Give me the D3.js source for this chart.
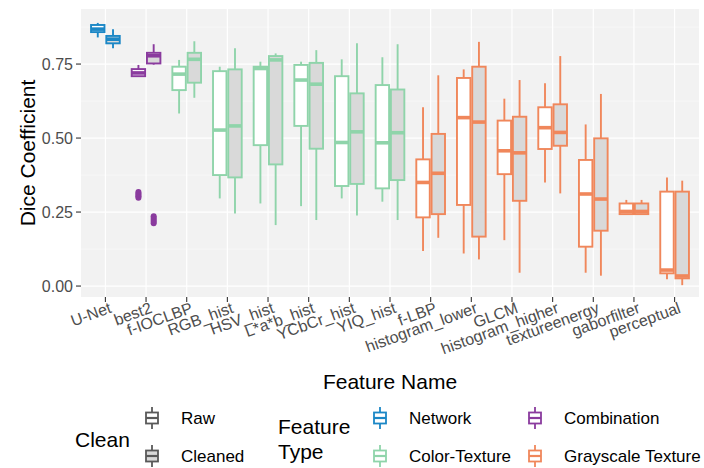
<!DOCTYPE html>
<html>
<head>
<meta charset="utf-8">
<script src="https://cdn.jsdelivr.net/npm/d3@7"></script>
<style>
  html, body { margin: 0; padding: 0; background: #ffffff; }
  svg { display: block; font-family: "Liberation Sans", Arial, sans-serif; }
</style>
</head>
<body>
<svg id="chart" width="704" height="468"></svg>
<script>
// Feature names along the x axis
const categories = ["U-Net", "best2", "f-IOCLBP", "RGB_hist", "HSV_hist", "L*a*b_hist",
  "YCbCr_hist", "YIQ_hist", "f-LBP", "histogram_lower", "GLCM", "histogram_higher",
  "textureenergy", "gaborfilter", "perceptual"];

// Feature type of each feature
const featureTypes = ["Network", "Combination",
  "Color-Texture", "Color-Texture", "Color-Texture", "Color-Texture", "Color-Texture", "Color-Texture",
  "Grayscale Texture", "Grayscale Texture", "Grayscale Texture", "Grayscale Texture",
  "Grayscale Texture", "Grayscale Texture", "Grayscale Texture"];

// Box statistics per feature: [lower whisker, Q1, median, Q3, upper whisker]
const rawStats = [
  [0.840, 0.858, 0.868, 0.882, 0.889],
  [0.707, 0.709, 0.720, 0.733, 0.747],
  [0.583, 0.662, 0.716, 0.741, 0.764],
  [0.296, 0.375, 0.527, 0.726, 0.741],
  [0.279, 0.476, 0.735, 0.741, 0.758],
  [0.270, 0.541, 0.696, 0.747, 0.758],
  [0.296, 0.338, 0.485, 0.709, 0.766],
  [0.285, 0.330, 0.484, 0.679, 0.773],
  [0.118, 0.232, 0.350, 0.428, 0.604],
  [0.110, 0.274, 0.569, 0.703, 0.732],
  [0.155, 0.378, 0.457, 0.559, 0.633],
  [0.350, 0.463, 0.535, 0.604, 0.685],
  [0.045, 0.133, 0.311, 0.426, 0.546],
  [0.243, 0.243, 0.252, 0.279, 0.291],
  [0.023, 0.043, 0.054, 0.319, 0.367]
];
const cleanedStats = [
  [0.803, 0.820, 0.834, 0.845, 0.868],
  [0.748, 0.752, 0.778, 0.788, 0.817],
  [0.636, 0.687, 0.766, 0.788, 0.827],
  [0.245, 0.367, 0.541, 0.732, 0.803],
  [0.206, 0.411, 0.764, 0.777, 0.786],
  [0.223, 0.464, 0.682, 0.754, 0.797],
  [0.238, 0.345, 0.521, 0.651, 0.820],
  [0.223, 0.358, 0.518, 0.664, 0.817],
  [0.163, 0.243, 0.381, 0.514, 0.712],
  [0.090, 0.167, 0.554, 0.741, 0.825],
  [0.045, 0.288, 0.450, 0.572, 0.696],
  [0.313, 0.474, 0.519, 0.614, 0.777],
  [0.035, 0.187, 0.294, 0.499, 0.649],
  [0.243, 0.243, 0.252, 0.279, 0.291],
  [0.003, 0.026, 0.034, 0.319, 0.356]
];

// Outlying points (feature index -> values)
const rawOutliers = { 1: [0.298, 0.303, 0.308, 0.313, 0.318] };
const cleanedOutliers = { 1: [0.212, 0.218, 0.224, 0.230, 0.236] };

// Axis settings
const yTicks = [0.00, 0.25, 0.50, 0.75];
const yMinor = [0.125, 0.375, 0.625, 0.875];
const yLimits = [-0.037, 0.936];

// Legend entries
const cleanLevels = ["Raw", "Cleaned"];
const typeLevels = ["Network", "Combination", "Color-Texture", "Grayscale Texture"];
const typeColors = ["#1b87c6", "#8a3b9e", "#8fd4aa", "#f0875b"];
const cleanFills = ["#ffffff", "#d9d9d9"];

const svg = d3.select("#chart");
const panel = { left: 81, right: 699, top: 9, bottom: 297 };

const x = d3.scalePoint().domain(categories).range([panel.left, panel.right]).padding(0.6);
const y = d3.scaleLinear().domain(yLimits).range([panel.bottom, panel.top]);
const color = d3.scaleOrdinal().domain(typeLevels).range(typeColors);
const fill = d3.scaleOrdinal().domain(cleanLevels).range(cleanFills);

// Panel background and grid
svg.append("rect")
  .attr("x", panel.left).attr("y", panel.top)
  .attr("width", panel.right - panel.left).attr("height", panel.bottom - panel.top)
  .attr("fill", "#f2f2f2");

const grid = svg.append("g");
grid.selectAll("line.minor").data(yMinor).join("line")
  .attr("x1", panel.left).attr("x2", panel.right)
  .attr("y1", d => y(d)).attr("y2", d => y(d))
  .attr("stroke", "#fafafa").attr("stroke-width", 0.6);
grid.selectAll("line.major").data(yTicks).join("line")
  .attr("x1", panel.left).attr("x2", panel.right)
  .attr("y1", d => y(d)).attr("y2", d => y(d))
  .attr("stroke", "#ffffff").attr("stroke-width", 1.2);
grid.selectAll("line.vert").data(categories).join("line")
  .attr("x1", d => x(d)).attr("x2", d => x(d))
  .attr("y1", panel.top).attr("y2", panel.bottom)
  .attr("stroke", "#ffffff").attr("stroke-width", 1.2);

// Boxplots, dodged by cleaning state
const step = x.step();
const boxW = step * 0.375;
const records = [];
categories.forEach((c, i) => {
  records.push({ cat: c, type: featureTypes[i], clean: "Raw", s: rawStats[i], out: rawOutliers[i] || [], off: -boxW / 2 });
  records.push({ cat: c, type: featureTypes[i], clean: "Cleaned", s: cleanedStats[i], out: cleanedOutliers[i] || [], off: boxW / 2 });
});

const boxes = svg.append("g").selectAll("g").data(records).join("g")
  .attr("transform", d => `translate(${x(d.cat) + d.off},0)`);

boxes.append("line")
  .attr("x1", 0).attr("x2", 0)
  .attr("y1", d => y(d.s[4])).attr("y2", d => y(d.s[3]))
  .attr("stroke", d => color(d.type)).attr("stroke-width", 1.9);
boxes.append("line")
  .attr("x1", 0).attr("x2", 0)
  .attr("y1", d => y(d.s[1])).attr("y2", d => y(d.s[0]))
  .attr("stroke", d => color(d.type)).attr("stroke-width", 1.9);
boxes.append("rect")
  .attr("x", -boxW / 2 + 0.9).attr("width", boxW - 1.8)
  .attr("y", d => y(d.s[3])).attr("height", d => Math.max(0.5, y(d.s[1]) - y(d.s[3])))
  .attr("fill", d => fill(d.clean))
  .attr("stroke", d => color(d.type)).attr("stroke-width", 1.9);
boxes.append("line")
  .attr("x1", -boxW / 2 + 0.9).attr("x2", boxW / 2 - 0.9)
  .attr("y1", d => y(d.s[2])).attr("y2", d => y(d.s[2]))
  .attr("stroke", d => color(d.type)).attr("stroke-width", 3.6);
boxes.selectAll("circle").data(d => d.out.map(v => ({ v, type: d.type }))).join("circle")
  .attr("cx", 0).attr("cy", d => y(d.v)).attr("r", 3)
  .attr("fill", d => color(d.type));

// Y axis
const yAxis = svg.append("g");
yAxis.selectAll("line").data(yTicks).join("line")
  .attr("x1", panel.left - 5).attr("x2", panel.left)
  .attr("y1", d => y(d)).attr("y2", d => y(d))
  .attr("stroke", "#333333").attr("stroke-width", 1.1);
yAxis.selectAll("text").data(yTicks).join("text")
  .attr("x", panel.left - 8).attr("y", d => y(d))
  .attr("dy", "0.36em").attr("text-anchor", "end")
  .attr("font-size", 16).attr("fill", "#4d4d4d")
  .text(d => d3.format(".2f")(d));

// X axis
const xAxis = svg.append("g");
xAxis.selectAll("line").data(categories).join("line")
  .attr("x1", d => x(d)).attr("x2", d => x(d))
  .attr("y1", panel.bottom).attr("y2", panel.bottom + 5)
  .attr("stroke", "#333333").attr("stroke-width", 1.1);
xAxis.selectAll("text").data(categories).join("text")
  .attr("transform", d => `translate(${x(d) + 3},${panel.bottom + 4}) rotate(-20)`)
  .attr("text-anchor", "end").attr("dy", "0.75em")
  .attr("font-size", 16).attr("fill", "#4d4d4d")
  .text(d => d);

// Axis titles
svg.append("text")
  .attr("x", (panel.left + panel.right) / 2).attr("y", 389)
  .attr("text-anchor", "middle").attr("font-size", 21).attr("fill", "#000")
  .text("Feature Name");
svg.append("text")
  .attr("transform", `translate(35,${(panel.top + panel.bottom) / 2}) rotate(-90)`)
  .attr("text-anchor", "middle").attr("font-size", 21).attr("fill", "#000")
  .text("Dice Coefficient");

// Legend key glyph: small boxplot
function keyGlyph(g, cx, cy, stroke, fillColor) {
  g.append("line").attr("x1", cx).attr("x2", cx).attr("y1", cy - 11).attr("y2", cy + 11)
    .attr("stroke", stroke).attr("stroke-width", 1.8);
  g.append("rect").attr("x", cx - 6).attr("y", cy - 5.5).attr("width", 12).attr("height", 11)
    .attr("fill", fillColor).attr("stroke", stroke).attr("stroke-width", 1.8);
  g.append("line").attr("x1", cx - 6).attr("x2", cx + 6).attr("y1", cy).attr("y2", cy)
    .attr("stroke", stroke).attr("stroke-width", 2.2);
}

const legend = svg.append("g");
legend.append("text").attr("x", 75).attr("y", 439).attr("dy", "0.36em")
  .attr("font-size", 21).text("Clean");
const cleanY = [418, 456];
cleanLevels.forEach((lv, i) => {
  keyGlyph(legend, 152, cleanY[i], "#595959", fill(lv));
  legend.append("text").attr("x", 181).attr("y", cleanY[i]).attr("dy", "0.36em")
    .attr("font-size", 17).attr("fill", "#000").text(lv);
});

legend.append("text").attr("x", 278).attr("y", 426).attr("dy", "0.36em")
  .attr("font-size", 21).text("Feature");
legend.append("text").attr("x", 278).attr("y", 451).attr("dy", "0.36em")
  .attr("font-size", 21).text("Type");
const typePos = [[380, 418], [535, 418], [380, 456], [535, 456]];
typeLevels.forEach((lv, i) => {
  const [kx, ky] = typePos[i];
  keyGlyph(legend, kx, ky, color(lv), "#ffffff");
  legend.append("text").attr("x", kx + 29).attr("y", ky).attr("dy", "0.36em")
    .attr("font-size", 17).attr("fill", "#000").text(lv);
});
</script>
</body>
</html>
